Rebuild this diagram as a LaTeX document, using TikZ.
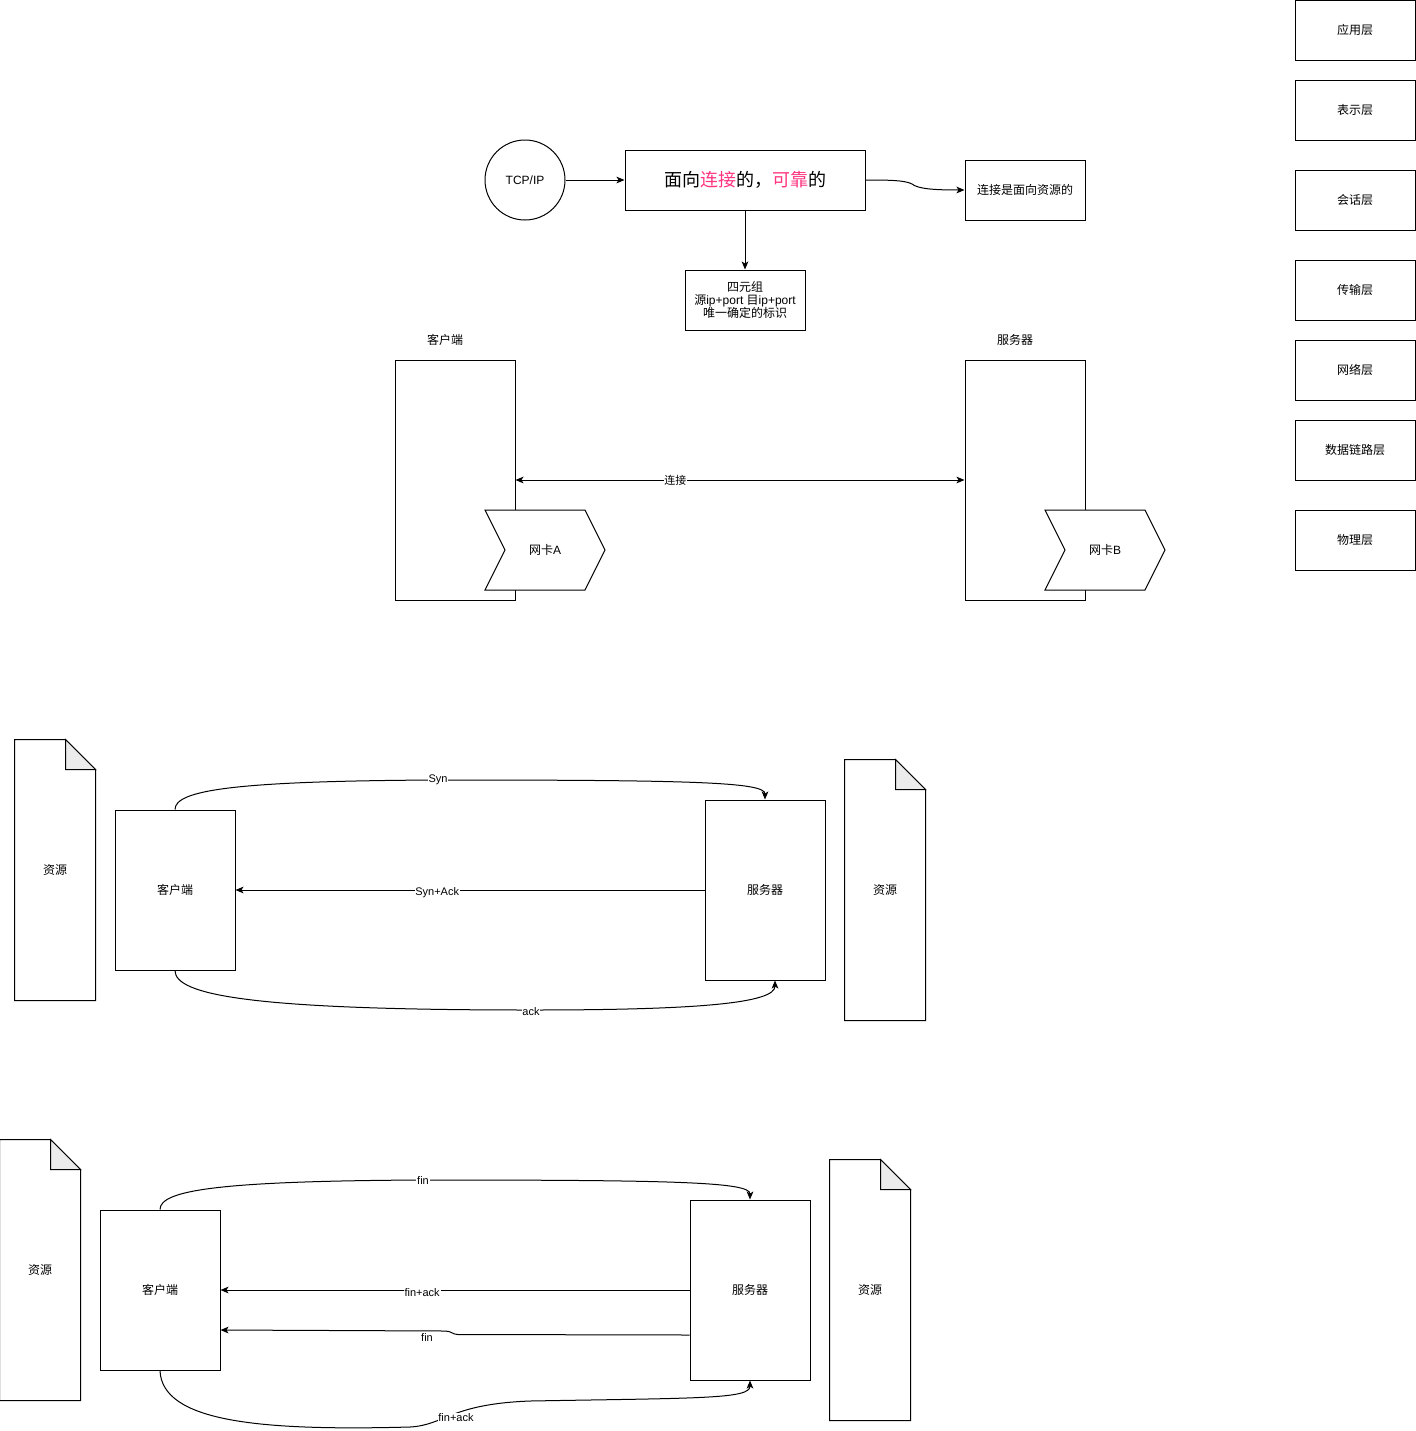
\documentclass[tikz,border=0pt]{standalone}
\usepackage{fontspec}
\setmainfont{Liberation Sans}
\newfontfamily\zh{Noto Sans CJK SC}
\usetikzlibrary{arrows.meta}
\definecolor{pinkc}{HTML}{FF3380}
\definecolor{foldc}{HTML}{EBEBEB}
\begin{document}
\begin{tikzpicture}[x=0.75pt,y=-0.75pt,line width=0.75pt,
  font=\fontsize{9pt}{10.5pt}\selectfont,
  box/.style={draw,fill=white,inner sep=0pt,align=center,minimum width=90pt,minimum height=45pt},
  tall/.style={box,minimum height=#1},
  plain/.style={inner sep=0pt,align=center},
  arr/.style={-{Stealth[length=6pt,width=5pt,inset=1.5pt]}},
  darr/.style={{Stealth[length=6pt,width=5pt,inset=1.5pt]}-{Stealth[length=6pt,width=5pt,inset=1.5pt]}},
  lbl/.style={fill=white,inner sep=0.6pt,font=\fontsize{8.25pt}{9pt}\selectfont}]
\useasboundingbox (0,0) rectangle (1416,1431);

% OSI layers
\node[box] (l1) at (1355,30) {\zh 应用层};
\node[box] (l2) at (1355,110) {\zh 表示层};
\node[box] (l3) at (1355,200) {\zh 会话层};
\node[box] (l4) at (1355,290) {\zh 传输层};
\node[box] (l5) at (1355,370) {\zh 网络层};
\node[box] (l6) at (1355,450) {\zh 数据链路层};
\node[box] (l7) at (1355,540) {\zh 物理层};

% top part
\node[draw,circle,minimum size=60pt,inner sep=0pt] (tcp) at (525,180) {TCP/IP};
\node[box,minimum width=180pt] (big) at (745,180)
  {\zh\fontsize{13.5pt}{16pt}\selectfont 面向\textcolor{pinkc}{连接}的，\textcolor{pinkc}{可靠}的};
\node[box] (res) at (1025,190) {\zh 连接是面向资源的};
\node[box] (quad) at (745,300) {{\zh 四元组}\\[-0.5pt]{\zh 源}ip+port {\zh 目}ip+port\\[-0.5pt]{\zh 唯一确定的标识}};
\draw[arr] (tcp) -- (big);
\draw[arr] (big.south) -- (quad.north);
\draw[arr] (big.east) .. controls (885,180) and (905,180) .. (912,184)
  .. controls (918,189) and (935,190) .. (res.west);

% client / server with NICs
\node[plain] (ct) at (445,340) {\zh 客户端};
\node[plain] (st) at (1015,340) {\zh 服务器};
\node[tall=180pt] (cA) at (455,480) {};
\node[tall=180pt] (sB) at (1025,480) {};
\draw[fill=white] (485,510) -- (585,510) -- (605,550) -- (585,590) -- (485,590) -- (505,550) -- cycle;
\node[plain] (nicA) at (545,550) {{\zh 网卡}A};
\draw[fill=white] (1045,510) -- (1145,510) -- (1165,550) -- (1145,590) -- (1045,590) -- (1065,550) -- cycle;
\node[plain] (nicB) at (1105,550) {{\zh 网卡}B};
\draw[darr] (cA.east) -- node[lbl,pos=0.356] {\zh 连接} (sB.west);

% handshake
\node[plain,minimum width=60pt,minimum height=195pt] (r1) at (55,870) {\zh 资源};
\draw (r1.north west) -- ([xshift=-22.5pt]r1.north east) -- ([yshift=-22.5pt]r1.north east) -- (r1.south east) -- (r1.south west) -- cycle;
\draw[fill=foldc] ([xshift=-22.5pt]r1.north east) -- ([xshift=-22.5pt,yshift=-22.5pt]r1.north east) -- ([yshift=-22.5pt]r1.north east) -- cycle;
\node[plain,minimum width=60pt,minimum height=195pt] (r2) at (885,890) {\zh 资源};
\draw (r2.north west) -- ([xshift=-22.5pt]r2.north east) -- ([yshift=-22.5pt]r2.north east) -- (r2.south east) -- (r2.south west) -- cycle;
\draw[fill=foldc] ([xshift=-22.5pt]r2.north east) -- ([xshift=-22.5pt,yshift=-22.5pt]r2.north east) -- ([yshift=-22.5pt]r2.north east) -- cycle;
\node[tall=120pt] (cli1) at (175,890) {\zh 客户端};
\node[tall=135pt] (srv1) at (765,890) {\zh 服务器};
\draw[arr] (cli1.north) .. controls (175,790) and (235,781) .. (438,780) node[lbl] {Syn}
  .. controls (690,780) and (765,782) .. (srv1.north);
\draw[arr] (srv1.west) -- node[lbl,pos=0.57,yshift=-2pt] {Syn+Ack} (cli1.east);
\draw[arr] (cli1.south) .. controls (175,995) and (250,1010) .. (531,1010) node[lbl,yshift=-1pt] {ack}
  .. controls (700,1010) and (775,1003) .. ([xshift=7.5pt]srv1.south);

% close
\node[plain,minimum width=60pt,minimum height=195pt] (r3) at (40,1270) {\zh 资源};
\draw (r3.north west) -- ([xshift=-22.5pt]r3.north east) -- ([yshift=-22.5pt]r3.north east) -- (r3.south east) -- (r3.south west) -- cycle;
\draw[fill=foldc] ([xshift=-22.5pt]r3.north east) -- ([xshift=-22.5pt,yshift=-22.5pt]r3.north east) -- ([yshift=-22.5pt]r3.north east) -- cycle;
\node[plain,minimum width=60pt,minimum height=195pt] (r4) at (870,1290) {\zh 资源};
\draw (r4.north west) -- ([xshift=-22.5pt]r4.north east) -- ([yshift=-22.5pt]r4.north east) -- (r4.south east) -- (r4.south west) -- cycle;
\draw[fill=foldc] ([xshift=-22.5pt]r4.north east) -- ([xshift=-22.5pt,yshift=-22.5pt]r4.north east) -- ([yshift=-22.5pt]r4.north east) -- cycle;
\node[tall=120pt] (cli2) at (160,1290) {\zh 客户端};
\node[tall=135pt] (srv2) at (750,1290) {\zh 服务器};
\draw[arr] (cli2.north) .. controls (160,1190) and (220,1181) .. (423,1180) node[lbl] {fin}
  .. controls (675,1180) and (750,1182) .. (srv2.north);
\draw[arr] (srv2.west) -- node[lbl,pos=0.57,yshift=-2pt] {fin+ack} (cli2.east);
\draw[arr] ([yshift=-33.75pt]srv2.west) -- (458,1334.5) .. controls (452,1334.5) and (452,1331) .. (445,1331)
  -- ([yshift=-30pt]cli2.east);
\node[lbl] (fin2) at (427,1337) {fin};
\draw[arr] (cli2.south) .. controls (162,1422) and (260,1431) .. (410,1427)
  .. controls (445,1425) and (450,1404) .. (530,1401)
  .. controls (700,1398) and (750,1399) .. (srv2.south);
\node[lbl] (fa2) at (456,1418) {fin+ack};
\end{tikzpicture}
\end{document}
